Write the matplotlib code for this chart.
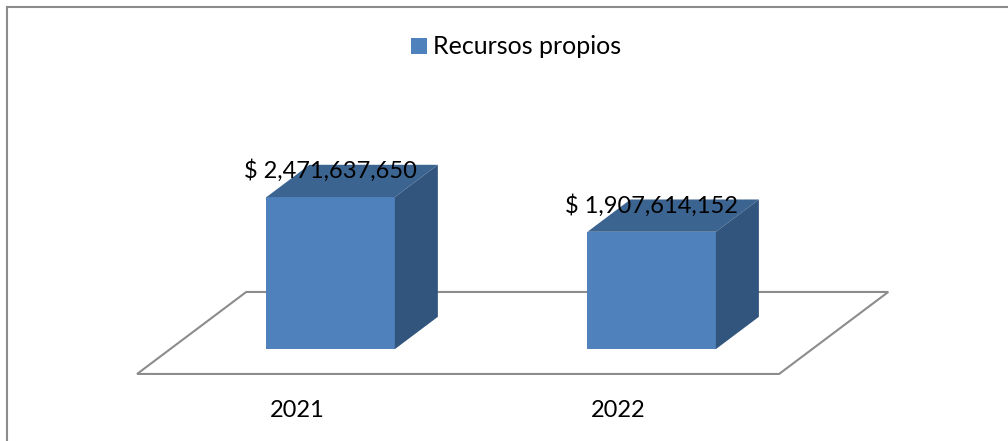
import matplotlib
matplotlib.use("Agg")
import matplotlib.pyplot as plt
from matplotlib.patches import Polygon
from matplotlib.lines import Line2D

# Datos
categorias = ["2021", "2022"]
recursos_propios = [2471637650, 1907614152]
serie = "Recursos propios"

plt.rcParams["font.family"] = ["Lato", "DejaVu Sans"]

frente = "#4F81BD"
tapa = "#3C6491"
lado = "#32557D"
gris = "#8C8C8C"

fig = plt.figure(figsize=(10.08, 4.41), dpi=100)
ax = fig.add_axes([0, 0, 1, 1])
ax.set_xlim(-0.927, 2.213)
ax.set_ylim(-1.09e9, 6.08e9)
ax.axis("off")

# Proyeccion oblicua: profundidad del piso en unidades de categoria / valor
DX = 0.34
DZ = 1.333e9
ancho = 0.40
d0, d1 = 0.303, 0.697
bd = d1 - d0

# Piso
n = len(categorias)
piso = Polygon([(-0.5, 0), (n - 0.5, 0), (n - 0.5 + DX, DZ), (-0.5 + DX, DZ)],
               closed=True, facecolor="white", edgecolor=gris, linewidth=1.5, zorder=1)
ax.add_patch(piso)

# Barras (cara frontal)
xs = [i + d0 * DX for i in range(n)]
base = d0 * DZ
barras = ax.bar(xs, recursos_propios, width=ancho, bottom=base, color=frente,
                zorder=3, label=serie)

for i, v in enumerate(recursos_propios):
    x0 = xs[i] - ancho / 2
    x1 = xs[i] + ancho / 2
    top = base + v
    # tapa superior
    ax.add_patch(Polygon([(x0, top), (x1, top), (x1 + bd * DX, top + bd * DZ),
                          (x0 + bd * DX, top + bd * DZ)],
                         closed=True, facecolor=tapa, edgecolor="none", zorder=3))
    # cara lateral
    ax.add_patch(Polygon([(x1, base), (x1 + bd * DX, base + bd * DZ),
                          (x1 + bd * DX, top + bd * DZ), (x1, top)],
                         closed=True, facecolor=lado, edgecolor="none", zorder=3))
    # etiqueta de valor
    ax.annotate(f"$ {v:,}", xy=(xs[i], top), xytext=(0, 19),
                textcoords="offset pixels", ha="center", va="baseline",
                fontsize=17, color="black", zorder=5)

# Etiquetas de categoria
for i, c in enumerate(categorias):
    ax.annotate(c, xy=(i, 0), xytext=(0, -43), textcoords="offset pixels",
                ha="center", va="baseline", fontsize=17, color="black")

# Leyenda
fig.legend(handles=[barras], labels=[serie], loc="center",
           bbox_to_anchor=(516 / 1008, 1 - 47 / 441), frameon=False,
           fontsize=18, handlelength=0.62, handleheight=0.62, handletextpad=0.25)

# Borde del grafico
fig.add_artist(Line2D([7 / 1008, 7 / 1008], [0, 1 - 7 / 441], color=gris, linewidth=1.5))
fig.add_artist(Line2D([7 / 1008, 1], [1 - 7 / 441, 1 - 7 / 441], color=gris, linewidth=1.5))

fig.savefig("out.png", dpi=100)
